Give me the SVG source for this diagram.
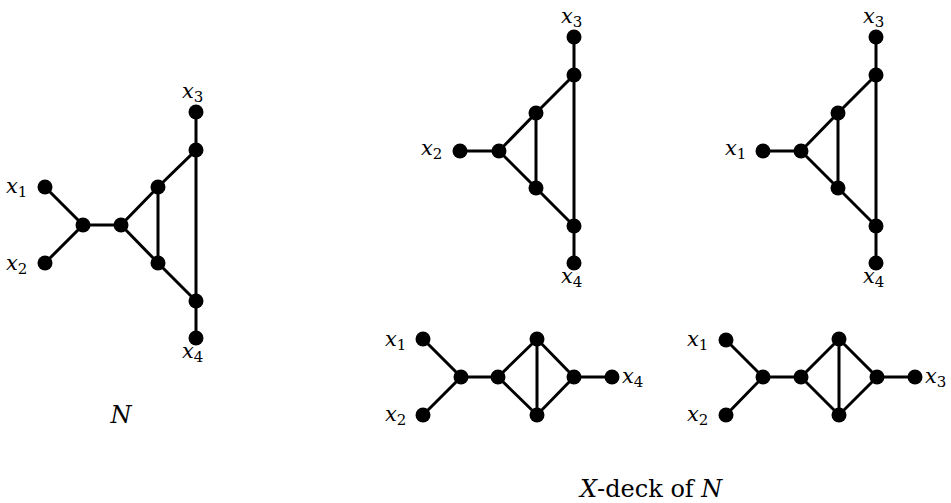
<svg xmlns="http://www.w3.org/2000/svg" width="951" height="503" viewBox="0 0 951 503">
<style>
.e{stroke:#000;stroke-width:3;fill:none;stroke-linecap:round}
.n{fill:#000}
.lb{font-family:'DejaVu Serif','Liberation Serif',serif;font-size:21px;font-style:italic;fill:#000}
.sb{font-style:normal;font-size:15px}
.cap{font-family:'DejaVu Serif','Liberation Serif',serif;font-size:24px;fill:#000}
.it{font-style:italic}
</style>
<rect width="951" height="503" fill="#fff"/>
<g id="connectors">
<path class="e" d="M45,187L83,225L45,263M83,225H121L158,187L196,150V112M121,225L158,263L196,301V338M158,187V263M196,150V301"/>
<path class="e" d="M460,151H499L536,113L574,75V37M499,151L536,188L574,226V263M536,113V188M574,75V226"/>
<path class="e" d="M763,151H801L838,113L876,75V37M801,151L838,188L876,226V263M838,113V188M876,75V226"/>
<path class="e" d="M423,339L461,377L423,415M461,377H498L537,339L574,377H612M498,377L537,415L574,377M537,339V415"/>
<path class="e" d="M726,340L763,377L726,415M763,377H801L839,339L877,377H915M801,377L839,415L877,377M839,339V415"/>
</g>
<g id="graph-N">
<circle class="n" cx="45" cy="187" r="7.5"/><circle class="n" cx="45" cy="263" r="7.5"/>
<circle class="n" cx="83" cy="225" r="7.5"/><circle class="n" cx="121" cy="225" r="7.5"/>
<circle class="n" cx="158" cy="187" r="7.5"/><circle class="n" cx="158" cy="263" r="7.5"/>
<circle class="n" cx="196" cy="150" r="7.5"/><circle class="n" cx="196" cy="112" r="7.5"/>
<circle class="n" cx="196" cy="301" r="7.5"/><circle class="n" cx="196" cy="338" r="7.5"/>
<text class="lb" x="6" y="193">x<tspan class="sb" dy="4">1</tspan></text>
<text class="lb" x="6" y="270">x<tspan class="sb" dy="4">2</tspan></text>
<text class="lb" x="182" y="98">x<tspan class="sb" dy="4">3</tspan></text>
<text class="lb" x="182" y="358">x<tspan class="sb" dy="4">4</tspan></text>
<text class="cap it" x="121" y="423" text-anchor="middle">N</text>
</g>
<g id="deck-1">
<circle class="n" cx="460" cy="151" r="7.5"/><circle class="n" cx="499" cy="151" r="7.5"/>
<circle class="n" cx="536" cy="113" r="7.5"/><circle class="n" cx="536" cy="188" r="7.5"/>
<circle class="n" cx="574" cy="75" r="7.5"/><circle class="n" cx="574" cy="37" r="7.5"/>
<circle class="n" cx="574" cy="226" r="7.5"/><circle class="n" cx="574" cy="263" r="7.5"/>
<text class="lb" x="421" y="155">x<tspan class="sb" dy="4">2</tspan></text>
<text class="lb" x="561" y="23">x<tspan class="sb" dy="4">3</tspan></text>
<text class="lb" x="561" y="283">x<tspan class="sb" dy="4">4</tspan></text>
</g>
<g id="deck-2">
<circle class="n" cx="763" cy="151" r="7.5"/><circle class="n" cx="801" cy="151" r="7.5"/>
<circle class="n" cx="838" cy="113" r="7.5"/><circle class="n" cx="838" cy="188" r="7.5"/>
<circle class="n" cx="876" cy="75" r="7.5"/><circle class="n" cx="876" cy="37" r="7.5"/>
<circle class="n" cx="876" cy="226" r="7.5"/><circle class="n" cx="876" cy="263" r="7.5"/>
<text class="lb" x="725" y="155">x<tspan class="sb" dy="4">1</tspan></text>
<text class="lb" x="863" y="23">x<tspan class="sb" dy="4">3</tspan></text>
<text class="lb" x="863" y="283">x<tspan class="sb" dy="4">4</tspan></text>
</g>
<g id="deck-3">
<circle class="n" cx="423" cy="339" r="7.5"/><circle class="n" cx="423" cy="415" r="7.5"/>
<circle class="n" cx="461" cy="377" r="7.5"/><circle class="n" cx="498" cy="377" r="7.5"/>
<circle class="n" cx="537" cy="339" r="7.5"/><circle class="n" cx="537" cy="415" r="7.5"/>
<circle class="n" cx="574" cy="377" r="7.5"/><circle class="n" cx="612" cy="377" r="7.5"/>
<text class="lb" x="385" y="346">x<tspan class="sb" dy="4">1</tspan></text>
<text class="lb" x="385" y="421">x<tspan class="sb" dy="4">2</tspan></text>
<text class="lb" x="622" y="383">x<tspan class="sb" dy="4">4</tspan></text>
</g>
<g id="deck-4">
<circle class="n" cx="726" cy="340" r="7.5"/><circle class="n" cx="726" cy="415" r="7.5"/>
<circle class="n" cx="763" cy="377" r="7.5"/><circle class="n" cx="801" cy="377" r="7.5"/>
<circle class="n" cx="839" cy="339" r="7.5"/><circle class="n" cx="839" cy="415" r="7.5"/>
<circle class="n" cx="877" cy="377" r="7.5"/><circle class="n" cx="915" cy="377" r="7.5"/>
<text class="lb" x="687" y="346">x<tspan class="sb" dy="4">1</tspan></text>
<text class="lb" x="687" y="421">x<tspan class="sb" dy="4">2</tspan></text>
<text class="lb" x="925" y="383">x<tspan class="sb" dy="4">3</tspan></text>
</g>
<text id="caption" class="cap" x="580" y="497"><tspan class="it">X</tspan>-deck of <tspan class="it">N</tspan></text>
</svg>
